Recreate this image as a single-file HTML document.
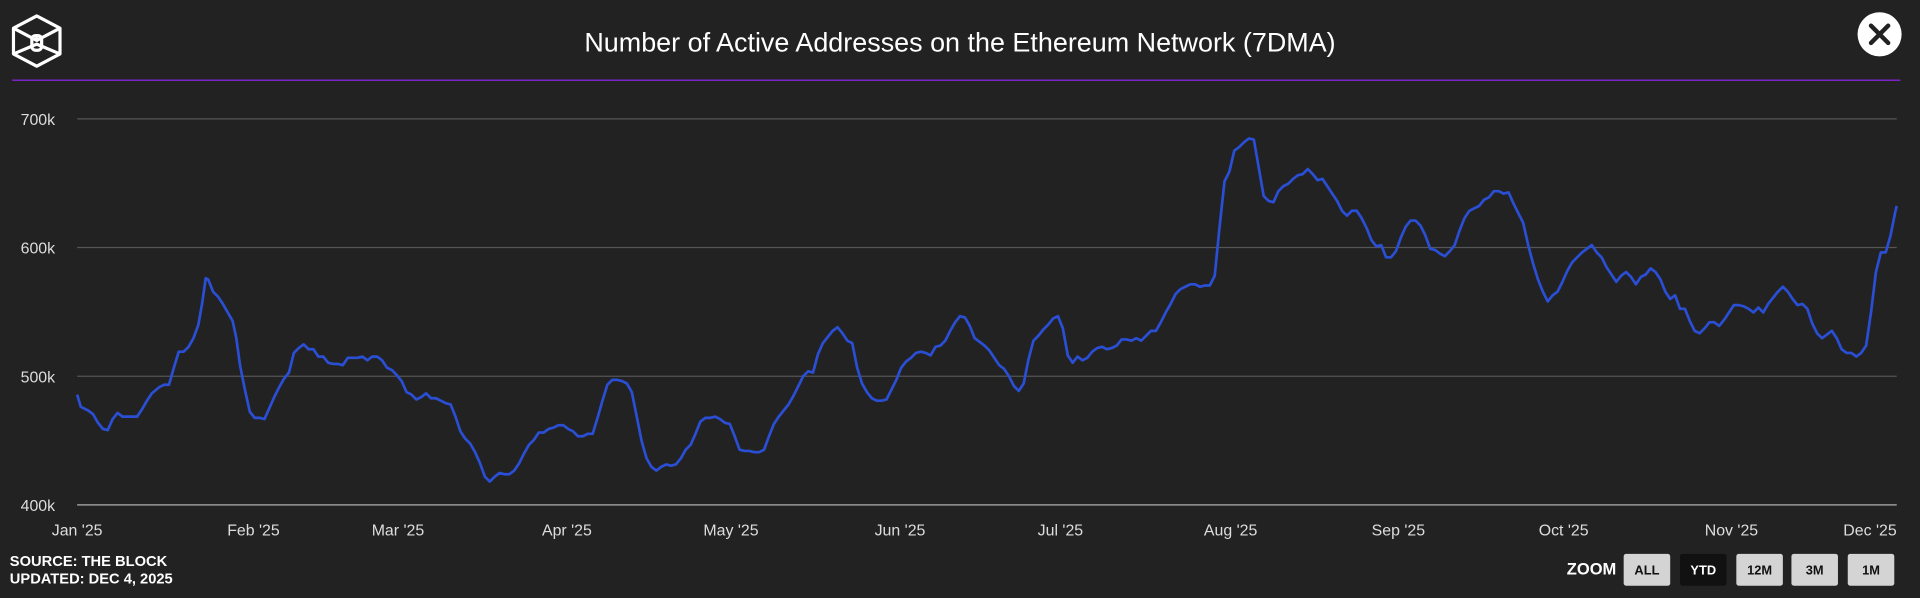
<!DOCTYPE html>
<html><head><meta charset="utf-8"><style>
html,body{margin:0;padding:0;background:#222222;}
svg{display:block;}
text{font-family:"Liberation Sans",sans-serif;}
</style></head><body>
<svg width="1920" height="598" viewBox="0 0 1568 488" preserveAspectRatio="none" xmlns="http://www.w3.org/2000/svg">
<rect width="1568" height="488" fill="#222222"/>
<!-- logo -->
<g fill="none" stroke="#fff" stroke-width="2.6" stroke-linejoin="round">
<polygon points="30,13 49,23 49,44 30,54 11,44 11,23"/>
<polyline points="11,23 30,33 49,23"/>
<polyline points="11,44 30,36 49,44"/>
<rect x="26" y="29" width="8" height="12" rx="3"/>
<line x1="30" y1="29" x2="30" y2="33"/>
</g>
<text x="784" y="42" fill="#fff" font-size="22" text-anchor="middle">Number of Active Addresses on the Ethereum Network (7DMA)</text>
<!-- close -->
<circle cx="1535" cy="28" r="18" fill="#fff"/>
<g stroke="#222" stroke-width="3.6" stroke-linecap="round"><line x1="1528" y1="21" x2="1542" y2="35"/><line x1="1542" y1="21" x2="1528" y2="35"/></g>
<line x1="10" y1="65.5" x2="1552" y2="65.5" stroke="#7b22c6" stroke-width="1.3"/>
<!-- grid -->
<g stroke="#555" stroke-width="1"><line x1="63" y1="97" x2="1549" y2="97"/><line x1="63" y1="202" x2="1549" y2="202"/><line x1="63" y1="307" x2="1549" y2="307"/></g>
<line x1="63" y1="412" x2="1549" y2="412" stroke="#9a9a9a" stroke-width="1.2"/>
<g fill="#ddd" font-size="13" text-anchor="end"><text x="45" y="102">700k</text><text x="45" y="207">600k</text><text x="45" y="312">500k</text><text x="45" y="417">400k</text></g>
<g fill="#ddd" font-size="13" text-anchor="middle">
<text x="63" y="437">Jan '25</text><text x="207" y="437">Feb '25</text><text x="325" y="437">Mar '25</text><text x="463" y="437">Apr '25</text><text x="597" y="437">May '25</text><text x="735" y="437">Jun '25</text><text x="866" y="437">Jul '25</text><text x="1005" y="437">Aug '25</text><text x="1142" y="437">Sep '25</text><text x="1277" y="437">Oct '25</text><text x="1414" y="437">Nov '25</text><text x="1549" y="437" text-anchor="end">Dec '25</text></g>
<polyline fill="none" stroke="#2a4fd4" stroke-width="2.2" stroke-linejoin="round" points="63,322 66,332 72,335 76,338 80,345 84,350 88,351 92,342 96,337 100,340 108,340 112,340 116,334 120,327 124,321 130,316 134,314 138,314 142,300 146,287 150,287 154,283 158,276 162,265 165,248 168,227 170,228 174,238 178,242 182,248 186,255 190,262 193,276 196,298 200,318 204,336 208,341 212,341 216,342 220,333 224,324 228,316 232,309 236,304 240,288 244,284 248,281 252,285 256,285 260,291 264,291 268,296 272,297 276,297 280,298 284,292 288,292 292,292 296,291 300,294 304,291 308,291 312,294 316,300 320,302 324,306 328,311 332,320 336,322 340,326 344,324 348,321 352,325 356,325 360,327 364,329 368,330 372,340 376,352 380,358 384,362 388,369 392,378 396,389 400,393 404,389 408,386 412,387 416,387 420,384 424,378 428,370 432,363 436,359 440,353 444,353 448,350 452,349 456,347 460,347 464,350 468,352 472,356 476,356 480,354 484,354 488,341 492,327 496,314 500,310 504,310 508,311 512,313 516,320 520,340 524,360 528,374 532,381 536,384 540,381 544,379 548,380 552,379 556,374 560,367 564,363 568,354 572,344 576,341 580,341 584,340 588,342 592,345 596,346 600,356 604,367 608,368 612,368 616,369 620,369 624,367 628,356 632,346 636,340 640,335 644,330 648,323 652,315 656,307 660,303 664,304 668,289 672,280 676,275 680,270 684,267 688,272 692,278 696,280 700,300 704,313 708,320 712,325 716,327 720,327 724,326 728,318 732,310 736,300 740,295 744,292 748,288 752,287 756,288 760,290 764,283 768,282 772,278 776,270 780,263 784,258 788,259 792,266 796,276 800,279 804,282 808,286 812,292 816,298 820,301 824,307 828,315 832,319 836,313 840,293 844,278 848,274 852,269 856,265 860,260 864,258 868,268 872,290 876,296 880,291 884,294 888,292 892,287 896,284 900,283 904,285 908,284 912,282 916,277 920,277 924,278 928,276 932,278 936,274 940,270 944,270 948,263 952,255 956,248 960,240 964,236 968,234 972,232 976,232 980,234 984,233 988,233 992,225 996,185 1000,148 1004,140 1008,123 1012,120 1016,116 1020,113 1024,114 1028,137 1032,160 1036,164 1040,165 1044,156 1048,152 1052,150 1056,146 1060,143 1064,142 1068,138 1072,142 1076,147 1080,146 1084,152 1088,158 1092,164 1096,172 1100,176 1104,172 1108,172 1112,178 1116,186 1120,196 1124,201 1128,200 1132,210 1136,210 1140,205 1144,194 1148,185 1152,180 1156,180 1160,184 1164,192 1168,203 1172,204 1176,207 1180,209 1184,205 1188,200 1192,188 1196,178 1200,172 1204,170 1208,168 1212,163 1216,161 1220,156 1224,156 1228,158 1232,157 1236,166 1240,174 1244,182 1248,200 1252,215 1256,228 1260,238 1264,246 1268,241 1272,238 1276,230 1280,221 1284,214 1288,210 1292,206 1296,203 1300,200 1304,206 1308,210 1312,218 1316,224 1320,230 1324,225 1328,222 1332,226 1336,232 1340,226 1344,224 1348,219 1352,222 1356,228 1360,238 1364,244 1368,241 1372,252 1376,252 1380,262 1384,270 1388,272 1392,268 1396,263 1400,263 1404,266 1408,261 1412,255 1416,249 1420,249 1424,250 1428,252 1432,255 1436,251 1440,255 1444,248 1448,243 1452,238 1456,234 1460,238 1464,244 1468,249 1472,248 1476,252 1480,264 1484,272 1488,276 1492,273 1496,270 1500,276 1504,285 1508,288 1512,288 1516,291 1520,288 1524,282 1528,255 1532,222 1536,206 1540,206 1544,192 1548,172 1549,168"/>
<g fill="#fff" font-size="12" font-weight="bold"><text x="8" y="462">SOURCE: THE BLOCK</text><text x="8" y="476">UPDATED: DEC 4, 2025</text></g>
<text x="1320" y="469" fill="#fff" font-size="13.5" font-weight="bold" text-anchor="end">ZOOM</text>
<g font-size="10.5" font-weight="bold" text-anchor="middle">
<rect x="1326" y="452" width="38" height="26" rx="2" fill="#d4d4d4"/><text x="1345" y="469" fill="#111">ALL</text>
<rect x="1372" y="452" width="38" height="26" rx="2" fill="#111"/><text x="1391" y="469" fill="#fff">YTD</text>
<rect x="1418" y="452" width="38" height="26" rx="2" fill="#d4d4d4"/><text x="1437" y="469" fill="#111">12M</text>
<rect x="1463" y="452" width="38" height="26" rx="2" fill="#d4d4d4"/><text x="1482" y="469" fill="#111">3M</text>
<rect x="1509" y="452" width="38" height="26" rx="2" fill="#d4d4d4"/><text x="1528" y="469" fill="#111">1M</text>
</g>
</svg>
</body></html>
